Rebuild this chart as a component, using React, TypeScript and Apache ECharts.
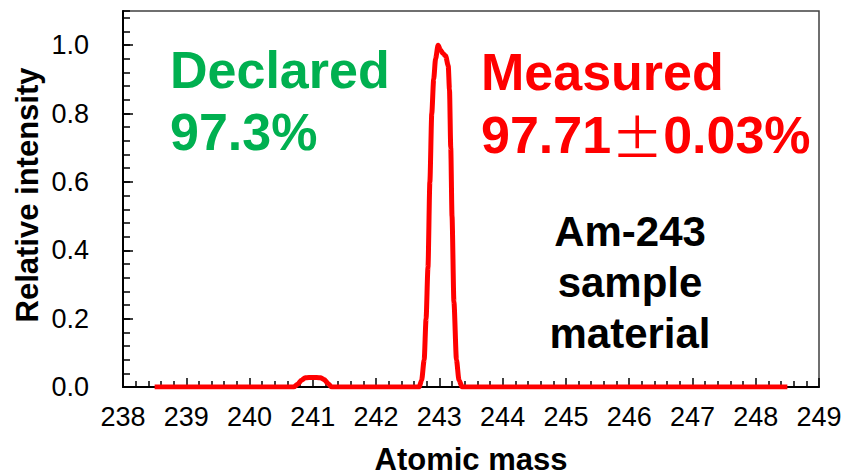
import React, { useEffect, useRef } from "react";
import * as echarts from "echarts";

const massValues = [
  238.5, 240.7, 240.76, 240.82, 240.88, 241.0, 241.12, 241.18, 241.24, 241.3,
  242.68, 242.72, 242.76, 242.79, 242.82, 242.85, 242.88, 242.91, 242.94, 242.98,
  243.02, 243.06, 243.1, 243.14, 243.16, 243.18, 243.2, 243.23, 243.27, 243.31, 243.36,
  248.5,
];
const intensityValues = [
  0, 0, 0.008, 0.02, 0.027, 0.028, 0.027, 0.022, 0.01, 0,
  0, 0.02, 0.08, 0.2, 0.35, 0.6, 0.8, 0.9, 0.96, 1.0,
  0.985, 0.975, 0.968, 0.94, 0.87, 0.7, 0.5, 0.25, 0.08, 0.02, 0,
  0,
];
const xRange = [238, 249];
const yRange = [0, 1.1];
const declaredLines = ["Declared", "97.3%"];
const measuredTitle = "Measured";
const measuredValue = ["97.71", "±", "0.03%"];
const sampleLines = ["Am-243", "sample", "material"];
const xTitle = "Atomic mass";
const yTitle = "Relative intensity";

const FONT = "'Liberation Sans', Arial, sans-serif";
const CJK = "'Noto Sans CJK JP', 'Liberation Sans', sans-serif";

export default function App() {
  const ref = useRef<HTMLDivElement>(null);
  useEffect(() => {
    if (!ref.current) return;
    const chart = echarts.init(ref.current, null, { renderer: "svg" });
    const data = massValues.map((m, i) => [m, intensityValues[i]]);
    chart.setOption({
      animation: false,
      textStyle: { fontFamily: FONT },
      grid: {
        left: 123,
        right: 27,
        top: 11,
        bottom: 88,
        show: true,
        borderColor: "#404040",
        borderWidth: 1.5,
        backgroundColor: "transparent",
      },
      xAxis: {
        type: "value",
        min: xRange[0],
        max: xRange[1],
        interval: 1,
        axisLine: { show: true, onZero: false, lineStyle: { color: "#000", width: 2 } },
        axisTick: { show: true, inside: true, length: 9, lineStyle: { color: "#000", width: 1.5 } },
        minorTick: { show: true, splitNumber: 5, length: 6, lineStyle: { color: "#000", width: 1.5 } },
        splitLine: { show: false },
        axisLabel: { color: "#000", fontSize: 27, margin: 16, fontFamily: FONT },
      },
      yAxis: [
        {
          type: "value",
          min: yRange[0],
          max: yRange[1],
          interval: 0.2,
          axisLine: { show: true, lineStyle: { color: "#000", width: 2 } },
          axisTick: { show: true, inside: true, length: 10, lineStyle: { color: "#000", width: 1.5 } },
          splitLine: { show: false },
          axisLabel: {
            color: "#000",
            fontSize: 27,
            margin: 34,
            fontFamily: FONT,
            showMaxLabel: false,
            formatter: (v: number) => (v > 1.05 ? "" : v.toFixed(1)),
          },
        },
        {
          type: "value",
          min: yRange[0],
          max: yRange[1],
          interval: 0.04,
          position: "left",
          axisLine: { show: false },
          axisTick: { show: true, inside: true, length: 7, lineStyle: { color: "#000", width: 1.5 } },
          splitLine: { show: false },
          axisLabel: { show: false },
        },
      ],
      series: [
        {
          type: "line",
          data,
          yAxisIndex: 0,
          showSymbol: false,
          smooth: 0.25,
          smoothMonotone: "x",
          lineStyle: { color: "#FF0000", width: 5 },
          itemStyle: { color: "#FF0000" },
        },
      ],
      graphic: [
        {
          type: "text",
          x: 170,
          y: 70,
          style: { text: declaredLines[0], fill: "#00B050", fontSize: 52, fontWeight: "bold", fontFamily: FONT, verticalAlign: "middle" },
        },
        {
          type: "text",
          x: 170,
          y: 132,
          style: { text: declaredLines[1], fill: "#00B050", fontSize: 52, fontWeight: "bold", fontFamily: FONT, verticalAlign: "middle" },
        },
        {
          type: "text",
          x: 481,
          y: 72,
          style: { text: measuredTitle, fill: "#FF0000", fontSize: 52, fontWeight: "bold", fontFamily: FONT, verticalAlign: "middle" },
        },
        {
          type: "text",
          x: 481,
          y: 135,
          style: {
            text: `{a|${measuredValue[0]}}{b|${measuredValue[1]}}{a|${measuredValue[2]}}`,
            fill: "#FF0000",
            verticalAlign: "middle",
            rich: {
              a: { fill: "#FF0000", fontSize: 52, fontWeight: "bold", fontFamily: FONT },
              b: { fill: "#FF0000", fontSize: 52, fontWeight: "normal", fontFamily: CJK },
            },
          },
        },
        ...sampleLines.map((t, i) => ({
          type: "text",
          x: 630,
          y: 231 + i * 51,
          style: { text: t, fill: "#000", fontSize: 42, fontWeight: "bold", fontFamily: FONT, align: "center", verticalAlign: "middle" },
        })),
        {
          type: "text",
          x: 471,
          y: 459,
          style: { text: xTitle, fill: "#000", fontSize: 31, fontWeight: "bold", fontFamily: FONT, align: "center", verticalAlign: "middle" },
        },
        {
          type: "text",
          x: 27,
          y: 195,
          rotation: Math.PI / 2,
          style: { text: yTitle, fill: "#000", fontSize: 31, fontWeight: "bold", fontFamily: FONT, align: "center", verticalAlign: "middle" },
        },
      ],
    });
    return () => chart.dispose();
  }, []);
  return <div ref={ref} style={{ width: 846, height: 475, position: "absolute", left: 0, top: 0 }} />;
}
